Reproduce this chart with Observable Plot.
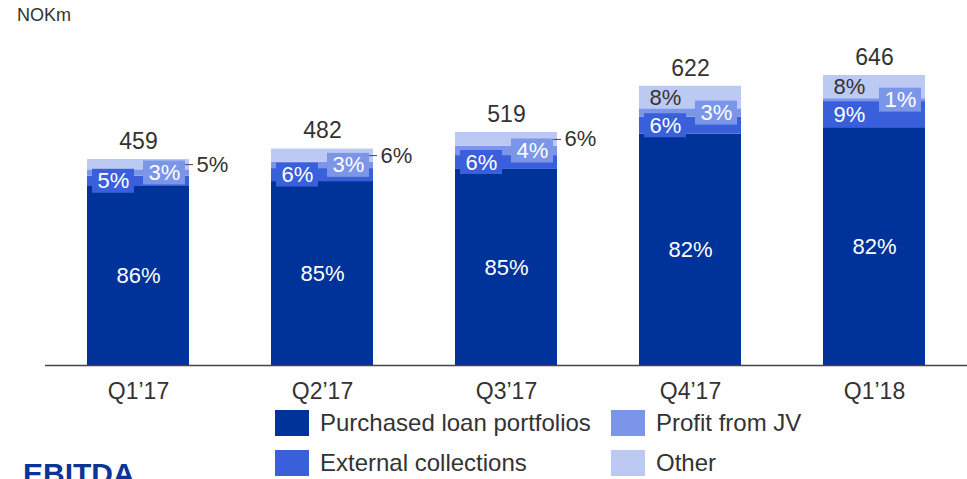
<!DOCTYPE html>
<html><head><meta charset="utf-8">
<script src="https://cdn.jsdelivr.net/npm/d3@7"></script>
<script src="https://cdn.jsdelivr.net/npm/@observablehq/plot@0.6"></script>
<style>
body{margin:0;width:967px;height:479px;overflow:hidden;background:#fff;font-family:"Liberation Sans",Arial,sans-serif;position:relative;color:#333}
#chart{position:absolute;left:0;top:0}
#chart svg{overflow:visible}
.unit{position:absolute;left:17px;top:6px;font-size:18px;line-height:1;color:#333}
#legend{position:absolute;left:275px;top:410px;display:grid;grid-auto-flow:column;grid-template-rows:26px 26px;grid-template-columns:336px auto;row-gap:14px}
.item{display:flex;align-items:center;font-size:24px;line-height:1;color:#333;white-space:nowrap}
.sw{display:inline-block;width:34px;height:26px;margin-right:11px}
.ebitda{position:absolute;left:23px;top:459px;font-size:30px;font-weight:bold;line-height:1;color:#0A3597}
</style></head>
<body>
<div class="unit">NOKm</div>
<div id="chart"></div>
<div id="legend"></div>
<div class="ebitda">EBITDA</div>
<script>
const quarters = ["Q1’17","Q2’17","Q3’17","Q4’17","Q1’18"];
const totals = [459,482,519,622,646];
const seriesNames = ["Purchased loan portfolios","External collections","Profit from JV","Other"];
const purchasedPct = [86,85,85,82,82];
const externalPct = [5,6,6,6,9];
const jvPct = [3,3,4,3,1];
const otherPct = [5,6,6,8,8];
const colors = ["#003399","#3A5FDB","#7B96E8","#BCC9F2"];

const W = 967, H = 410, mTop = 75, mBottom = 45;
const yMax = 646;
const k = (H - mTop - mBottom) / yMax; // px per unit

const pctSeries = [purchasedPct, externalPct, jvPct, otherPct];
const rows = [];
quarters.forEach((q, i) => {
  const sum = pctSeries.reduce((a, s) => a + s[i], 0);
  let acc = 0;
  pctSeries.forEach((s, j) => {
    const v = s[i] / sum * totals[i];
    rows.push({q, i, series: seriesNames[j], j, pct: s[i], y1: acc, y2: acc + v, c: acc + v / 2});
    acc += v;
  });
});
const half = 12 / k;
const extRows = rows.filter(d => d.j === 1);
const jvRows = rows.filter(d => d.j === 2);
const othRows = rows.filter(d => d.j === 3);
const totalRows = quarters.map((q, i) => ({q, total: totals[i]}));

const plot = Plot.plot({
  width: W, height: H,
  marginLeft: 45, marginRight: 0, marginTop: mTop, marginBottom: mBottom,
  style: {fontFamily: "'Liberation Sans', Arial, sans-serif", color: "#333", background: "transparent", overflow: "visible"},
  x: {domain: quarters, paddingInner: 0.448, paddingOuter: 0.219, label: null},
  y: {domain: [0, yMax], axis: null},
  color: {domain: seriesNames, range: colors},
  marks: [
    Plot.barY(rows, {x: "q", y1: "y1", y2: "y2", fill: "series"}),
    Plot.barY(extRows, {x: "q", y1: d => d.c - half, y2: d => d.c + half, fill: colors[1], insetLeft: 5, insetRight: 55}),
    Plot.barY(jvRows, {x: "q", y1: d => d.c - half, y2: d => d.c + half, fill: colors[2], insetLeft: 56, insetRight: 4}),
    Plot.ruleY([0], {stroke: "#444", strokeWidth: 1.5}),
    Plot.axisX({tickSize: 0, tickPadding: 17, fontSize: 23, fill: "#333", label: null}),
    Plot.text(rows.filter(d => d.j === 0), {x: "q", y: "c", text: d => d.pct + "%", fill: "white", fontSize: 22}),
    Plot.text(extRows, {x: "q", y: "c", text: d => d.pct + "%", fill: "white", fontSize: 22, dx: -25}),
    Plot.text(jvRows, {x: "q", y: "c", text: d => d.pct + "%", fill: "white", fontSize: 22, dx: 26}),
    Plot.text(othRows.filter(d => d.i >= 3), {x: "q", y: "c", text: d => d.pct + "%", fill: "#333", fontSize: 22, dx: -25}),
    Plot.tickY(othRows.filter(d => d.i < 3), {x: "q", y: "c", stroke: "#444", strokeWidth: 1, insetLeft: 98, insetRight: -4}),
    Plot.text(othRows.filter(d => d.i < 3), {x: "q", y: "c", text: d => d.pct + "%", fill: "#333", fontSize: 22, dx: 58, textAnchor: "start"}),
    Plot.text(totalRows, {x: "q", y: "total", text: d => String(d.total), fill: "#333", fontSize: 23, dy: -18})
  ]
});
document.getElementById("chart").appendChild(plot);

const legend = document.getElementById("legend");
seriesNames.forEach((name, j) => {
  const it = document.createElement("div");
  it.className = "item";
  const sw = document.createElement("span");
  sw.className = "sw";
  sw.style.background = colors[j];
  it.appendChild(sw);
  it.appendChild(document.createTextNode(name));
  legend.appendChild(it);
});
</script>
</body></html>
